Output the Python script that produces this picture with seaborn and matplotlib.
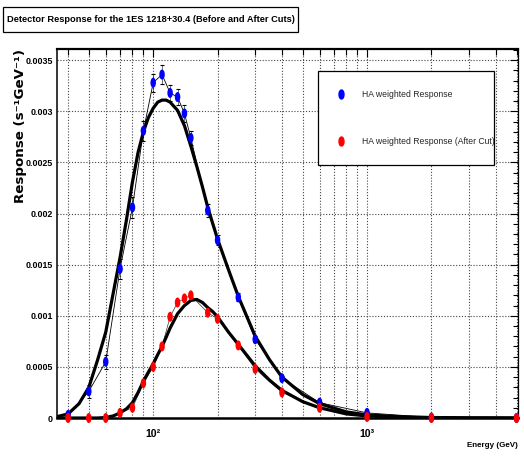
import matplotlib
matplotlib.use("Agg")
import matplotlib.pyplot as plt
import seaborn as sns
import pandas as pd
from matplotlib.lines import Line2D
from matplotlib.markers import MarkerStyle
from matplotlib.path import Path
from matplotlib.transforms import Affine2D
from matplotlib.patches import Rectangle
from matplotlib.ticker import MultipleLocator, LogLocator, FuncFormatter, NullFormatter

# ---------------- data ----------------
energy = [40, 50, 60, 70, 80, 90, 100, 110, 120, 130, 140, 150, 180, 200,
          250, 300, 400, 600, 1000, 2000, 5000]
resp_before = [0.00003, 0.00026, 0.00055, 0.00146, 0.00206, 0.00281, 0.00328,
               0.00336, 0.00318, 0.00314, 0.00298, 0.00274, 0.00203, 0.00174,
               0.00118, 0.00077, 0.00039, 0.00015, 0.00005, 0.000005, 0.0]
resp_before_err = [0.00001, 0.00006, 0.00007, 0.0001, 0.0001, 0.0001, 0.00009,
                   0.00009, 0.00008, 0.00008, 0.00008, 0.00007, 0.00006, 0.00005,
                   0.00004, 0.00003, 0.00002, 0.00001, 0.000005, 0.0, 0.0]
resp_after = [0.0, 0.0, 0.0, 0.00005, 0.0001, 0.00034, 0.0005, 0.0007, 0.00099,
              0.00113, 0.00117, 0.0012, 0.00103, 0.00097, 0.00071, 0.00048,
              0.00025, 0.0001, 0.00001, 0.0, 0.0]

fit_energy = [35, 40, 45, 50, 55, 60, 65, 70, 75, 80, 85, 90, 95, 100, 105,
              110, 115, 120, 130, 140, 150, 160, 170, 180, 190, 200, 225, 250,
              300, 350, 400, 500, 600, 800, 1000, 1500, 2000, 3000, 5000]
fit_before = [0.00001, 0.00004, 0.00014, 0.0003, 0.00057, 0.00084, 0.00122,
              0.00157, 0.00194, 0.00231, 0.0026, 0.0028, 0.00294, 0.00303,
              0.00309, 0.00311, 0.00311, 0.00309, 0.00301, 0.00286, 0.00266,
              0.00246, 0.00226, 0.00206, 0.0019, 0.00175, 0.00145, 0.00119,
              0.0008, 0.00057, 0.0004, 0.00023, 0.00014, 0.00006, 0.00003,
              0.00001, 0.000005, 0.000001, 0.0]
fit_after = [0.0, 0.0, 0.0, 0.0, 0.0, 0.000005, 0.00002, 0.00005, 0.00009,
             0.00015, 0.00025, 0.00036, 0.00045, 0.00053, 0.00062, 0.0007,
             0.00079, 0.00088, 0.00102, 0.0011, 0.00115, 0.00116, 0.00113,
             0.00108, 0.00104, 0.00099, 0.00084, 0.00072, 0.00051, 0.00037,
             0.00027, 0.00016, 0.0001, 0.00004, 0.00002, 0.000008, 0.000003,
             0.000001, 0.0]

x_tick_labels = {100: "10\u00b2", 1000: "10\u00b3"}
legend_labels = ["HA weighted Response", "HA weighted Response (After Cut)"]
title = "Detector Response for the 1ES 1218+30.4 (Before and After Cuts)"
y_label = "Response (s\u207b\u00b9GeV\u207b\u00b9)"
x_label = "Energy (GeV)"

# ---------------- style ----------------
sns.set_theme(style="white")
FONT = ["Liberation Sans", "DejaVu Sans"]
plt.rcParams["font.family"] = FONT

BLUE = "#0000ff"
RED = "#ff0000"
ellipse = MarkerStyle(Path.unit_circle().transformed(Affine2D().scale(0.55, 1.0)))

df_pts = pd.DataFrame({"energy": energy, "before": resp_before, "after": resp_after})
df_fit = pd.DataFrame({"energy": fit_energy, "before": fit_before, "after": fit_after})

fig = plt.figure(figsize=(5.24, 4.59), dpi=100)
fig.patch.set_facecolor("white")
ax = fig.add_axes([57 / 524, 41 / 459, 461 / 524, 369 / 459])
ax.set_facecolor("white")
ax.set_xscale("log")

# thin lines joining the data points
sns.lineplot(data=df_pts, x="energy", y="after", ax=ax, color="#333333",
             linewidth=0.5, zorder=3)
sns.lineplot(data=df_pts, x="energy", y="before", ax=ax, color="black",
             linewidth=0.6, zorder=3)
ax.errorbar(energy, resp_before, yerr=resp_before_err, fmt="none", ecolor="black",
            elinewidth=0.4, capsize=1.6, capthick=0.8, zorder=3)

# fitted curves
sns.lineplot(data=df_fit, x="energy", y="before", ax=ax, color="black",
             linewidth=2.3, zorder=4)
sns.lineplot(data=df_fit, x="energy", y="after", ax=ax, color="black",
             linewidth=2.3, zorder=4)

# data points
sns.scatterplot(data=df_pts, x="energy", y="before", ax=ax, color=BLUE,
                marker=ellipse, s=52, linewidth=0, edgecolor="none",
                zorder=6, clip_on=False)
sns.scatterplot(data=df_pts, x="energy", y="after", ax=ax, color=RED,
                marker=ellipse, s=52, linewidth=0, edgecolor="none",
                zorder=7, clip_on=False)

# axes limits and ticks
ax.set_xlim(35.5, 5080)
ax.set_ylim(0, 0.00361)
ax.xaxis.set_major_locator(LogLocator(base=10))
ax.xaxis.set_minor_locator(LogLocator(base=10, subs=[2, 3, 4, 5, 6, 7, 8, 9]))
ax.xaxis.set_major_formatter(FuncFormatter(lambda v, p: x_tick_labels.get(int(round(v)), "")))
ax.xaxis.set_minor_formatter(NullFormatter())
ax.yaxis.set_major_locator(MultipleLocator(0.0005))
ax.yaxis.set_minor_locator(MultipleLocator(0.0001))
ax.yaxis.set_major_formatter(FuncFormatter(lambda v, p: "%g" % round(v, 6)))

ax.tick_params(which="both", direction="in", top=True, right=True,
               color="black", width=0.8)
ax.tick_params(axis="y", which="major", length=6, pad=3, labelsize=6.4)
ax.tick_params(axis="y", which="minor", length=3.5)
ax.tick_params(axis="x", which="major", length=6, pad=8, labelsize=7.6)
ax.tick_params(axis="x", which="minor", length=4.5)
for lab in ax.get_yticklabels() + ax.get_xticklabels():
    lab.set_fontweight("bold")
    lab.set_color("black")

ax.grid(True, which="major", axis="y", color="#444444", linestyle=(0, (1, 1.6)), linewidth=0.8)
ax.grid(True, which="both", axis="x", color="#444444", linestyle=(0, (1, 1.6)), linewidth=0.8)

for side, lw in [("top", 1.6), ("bottom", 1.8), ("left", 1.1), ("right", 0.9)]:
    ax.spines[side].set_visible(True)
    ax.spines[side].set_color("black")
    ax.spines[side].set_linewidth(lw)

# axis titles
ax.set_ylabel(y_label, loc="top", fontsize=9.6, fontweight="bold",
              family=["DejaVu Sans"], color="black")
ax.yaxis.set_label_coords(-0.066, 1.0)
ax.set_xlabel(x_label, loc="right", fontsize=5.8, fontweight="bold", color="black")
ax.xaxis.set_label_coords(1.0, -0.064)

# legend
handles = [Line2D([], [], linestyle="", marker=ellipse, markersize=6.5, color=BLUE),
           Line2D([], [], linestyle="", marker=ellipse, markersize=6.5, color=RED)]
leg = ax.legend(handles, legend_labels, loc="upper left",
                bbox_to_anchor=(0.5662, 0.0, 0.3818, 0.9405), mode="expand",
                borderaxespad=0, fontsize=6.2, frameon=True, fancybox=False,
                edgecolor="black", facecolor="white", framealpha=1,
                borderpad=2.2, labelspacing=4.4, handlelength=1.0,
                handletextpad=1.95)
leg.get_frame().set_linewidth(0.9)
leg.set_zorder(10)

# title box
fig.patches.append(Rectangle((3 / 524, 1 - 32 / 459), 295 / 524, 25 / 459,
                             transform=fig.transFigure, facecolor="white",
                             edgecolor="black", linewidth=0.9))
fig.text(150.5 / 524, 1 - 19.5 / 459, title, ha="center", va="center",
         fontsize=6.7, fontweight="bold", color="black")

fig.savefig("out.png", dpi=100, facecolor="white")
